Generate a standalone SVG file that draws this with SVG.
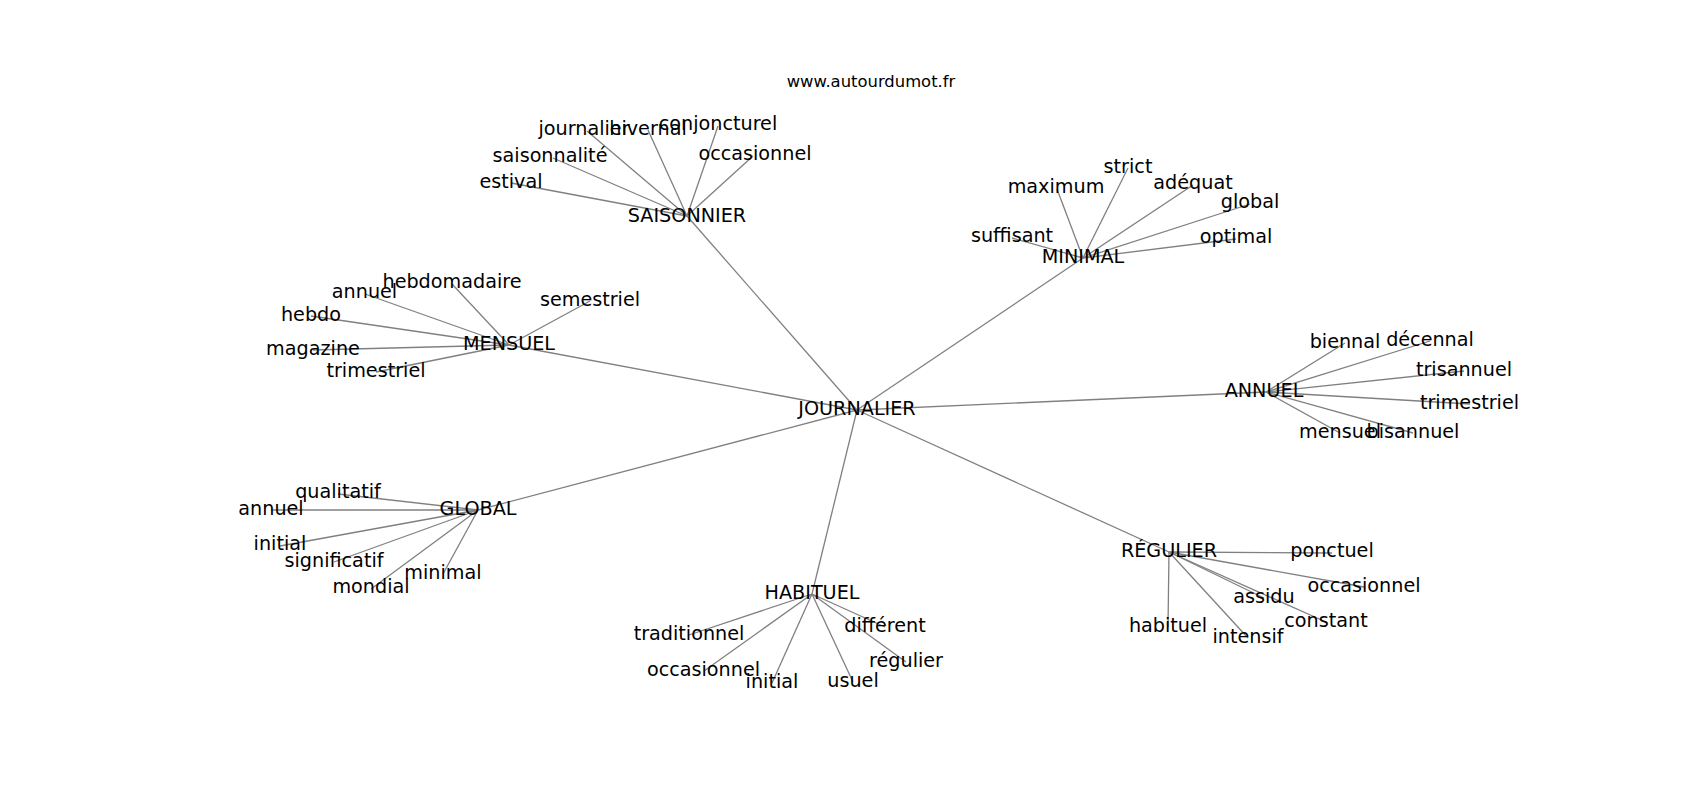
<svg xmlns="http://www.w3.org/2000/svg" width="1700" height="800" viewBox="0 0 1700 800">
<style>
text{font-family:"DejaVu Sans",sans-serif;font-size:19.2px;fill:#000;text-anchor:middle}
.t{font-size:16.4px}
#edges line{stroke:#808080;stroke-width:1.3}
</style>
<rect width="1700" height="800" fill="#fff"/>
<text class="t" x="871" y="87">www.autourdumot.fr</text>
<g id="edges">
<line x1="857" y1="410" x2="687" y2="216"/>
<line x1="857" y1="410" x2="1083" y2="258"/>
<line x1="857" y1="410" x2="509" y2="345"/>
<line x1="857" y1="410" x2="1266" y2="392"/>
<line x1="857" y1="410" x2="478" y2="510"/>
<line x1="857" y1="410" x2="812" y2="594"/>
<line x1="857" y1="410" x2="1169" y2="552"/>
<line x1="687" y1="216" x2="587" y2="131"/>
<line x1="687" y1="216" x2="648" y2="130"/>
<line x1="687" y1="216" x2="718" y2="126"/>
<line x1="687" y1="216" x2="553" y2="158"/>
<line x1="687" y1="216" x2="753" y2="156"/>
<line x1="687" y1="216" x2="511" y2="183"/>
<line x1="1083" y1="258" x2="1012" y2="238"/>
<line x1="1083" y1="258" x2="1057" y2="189"/>
<line x1="1083" y1="258" x2="1128" y2="168"/>
<line x1="1083" y1="258" x2="1193" y2="185"/>
<line x1="1083" y1="258" x2="1250" y2="204"/>
<line x1="1083" y1="258" x2="1236" y2="239"/>
<line x1="509" y1="345" x2="452" y2="284"/>
<line x1="509" y1="345" x2="365" y2="294"/>
<line x1="509" y1="345" x2="590" y2="301"/>
<line x1="509" y1="345" x2="311" y2="316"/>
<line x1="509" y1="345" x2="313" y2="350"/>
<line x1="509" y1="345" x2="376" y2="372"/>
<line x1="1266" y1="392" x2="1345" y2="343"/>
<line x1="1266" y1="392" x2="1430" y2="341"/>
<line x1="1266" y1="392" x2="1464" y2="371"/>
<line x1="1266" y1="392" x2="1470" y2="404"/>
<line x1="1266" y1="392" x2="1340" y2="433"/>
<line x1="1266" y1="392" x2="1413" y2="433"/>
<line x1="478" y1="510" x2="338" y2="494"/>
<line x1="478" y1="510" x2="271" y2="510"/>
<line x1="478" y1="510" x2="280" y2="546"/>
<line x1="478" y1="510" x2="334" y2="562"/>
<line x1="478" y1="510" x2="443" y2="574"/>
<line x1="478" y1="510" x2="371" y2="589"/>
<line x1="812" y1="594" x2="689" y2="635"/>
<line x1="812" y1="594" x2="885" y2="627"/>
<line x1="812" y1="594" x2="704" y2="671"/>
<line x1="812" y1="594" x2="906" y2="662"/>
<line x1="812" y1="594" x2="772" y2="683"/>
<line x1="812" y1="594" x2="853" y2="682"/>
<line x1="1169" y1="552" x2="1332" y2="553"/>
<line x1="1169" y1="552" x2="1364" y2="587"/>
<line x1="1169" y1="552" x2="1264" y2="598"/>
<line x1="1169" y1="552" x2="1326" y2="622"/>
<line x1="1169" y1="552" x2="1168" y2="627"/>
<line x1="1169" y1="552" x2="1248" y2="638"/>
</g>
<g id="n-journalier"><text x="857" y="415">JOURNALIER</text></g>
<g id="n-saisonnier"><text x="687" y="222">SAISONNIER</text></g>
<g id="n-s-journalier"><text x="584" y="135">journalier</text></g>
<g id="n-s-hivernal"><text x="648" y="135">hivernal</text></g>
<g id="n-s-conjoncturel"><text x="718" y="130">conjoncturel</text></g>
<g id="n-s-saisonnalite"><text x="550" y="162">saisonnalité</text></g>
<g id="n-s-occasionnel"><text x="755" y="160">occasionnel</text></g>
<g id="n-s-estival"><text x="511" y="188">estival</text></g>
<g id="n-minimal"><text x="1083" y="263">MINIMAL</text></g>
<g id="n-m-suffisant"><text x="1012" y="242">suffisant</text></g>
<g id="n-m-maximum"><text x="1056" y="193">maximum</text></g>
<g id="n-m-strict"><text x="1128" y="173">strict</text></g>
<g id="n-m-adequat"><text x="1193" y="189">adéquat</text></g>
<g id="n-m-global"><text x="1250" y="208">global</text></g>
<g id="n-m-optimal"><text x="1236" y="243">optimal</text></g>
<g id="n-mensuel"><text x="509" y="350">MENSUEL</text></g>
<g id="n-me-hebdomadaire"><text x="452" y="288">hebdomadaire</text></g>
<g id="n-me-annuel"><text x="364.5" y="298">annuel</text></g>
<g id="n-me-semestriel"><text x="590" y="305.5">semestriel</text></g>
<g id="n-me-hebdo"><text x="311" y="320.5">hebdo</text></g>
<g id="n-me-magazine"><text x="313" y="355">magazine</text></g>
<g id="n-me-trimestriel"><text x="376" y="377">trimestriel</text></g>
<g id="n-annuel"><text x="1264" y="397">ANNUEL</text></g>
<g id="n-a-biennal"><text x="1345" y="347.5">biennal</text></g>
<g id="n-a-decennal"><text x="1430" y="345.5">décennal</text></g>
<g id="n-a-trisannuel"><text x="1464" y="375.5">trisannuel</text></g>
<g id="n-a-trimestriel"><text x="1469.5" y="409">trimestriel</text></g>
<g id="n-a-mensuel"><text x="1340" y="437.5">mensuel</text></g>
<g id="n-a-bisannuel"><text x="1413" y="437.5">bisannuel</text></g>
<g id="n-global"><text x="478" y="515">GLOBAL</text></g>
<g id="n-g-qualitatif"><text x="338" y="498">qualitatif</text></g>
<g id="n-g-annuel"><text x="271" y="515">annuel</text></g>
<g id="n-g-initial"><text x="280" y="550">initial</text></g>
<g id="n-g-significatif"><text x="334" y="566.5">significatif</text></g>
<g id="n-g-minimal"><text x="443" y="579">minimal</text></g>
<g id="n-g-mondial"><text x="371" y="593">mondial</text></g>
<g id="n-habituel"><text x="812" y="599">HABITUEL</text></g>
<g id="n-h-traditionnel"><text x="689" y="640">traditionnel</text></g>
<g id="n-h-different"><text x="885" y="631.5">différent</text></g>
<g id="n-h-occasionnel"><text x="703.5" y="676">occasionnel</text></g>
<g id="n-h-regulier"><text x="906" y="666.5">régulier</text></g>
<g id="n-h-initial"><text x="772" y="688">initial</text></g>
<g id="n-h-usuel"><text x="853" y="686.5">usuel</text></g>
<g id="n-regulier"><text x="1169" y="557">RÉGULIER</text></g>
<g id="n-r-ponctuel"><text x="1332" y="557">ponctuel</text></g>
<g id="n-r-occasionnel"><text x="1364" y="591.5">occasionnel</text></g>
<g id="n-r-assidu"><text x="1264" y="602.5">assidu</text></g>
<g id="n-r-constant"><text x="1326" y="627">constant</text></g>
<g id="n-r-habituel"><text x="1168" y="631.5">habituel</text></g>
<g id="n-r-intensif"><text x="1248" y="643">intensif</text></g>
</svg>
